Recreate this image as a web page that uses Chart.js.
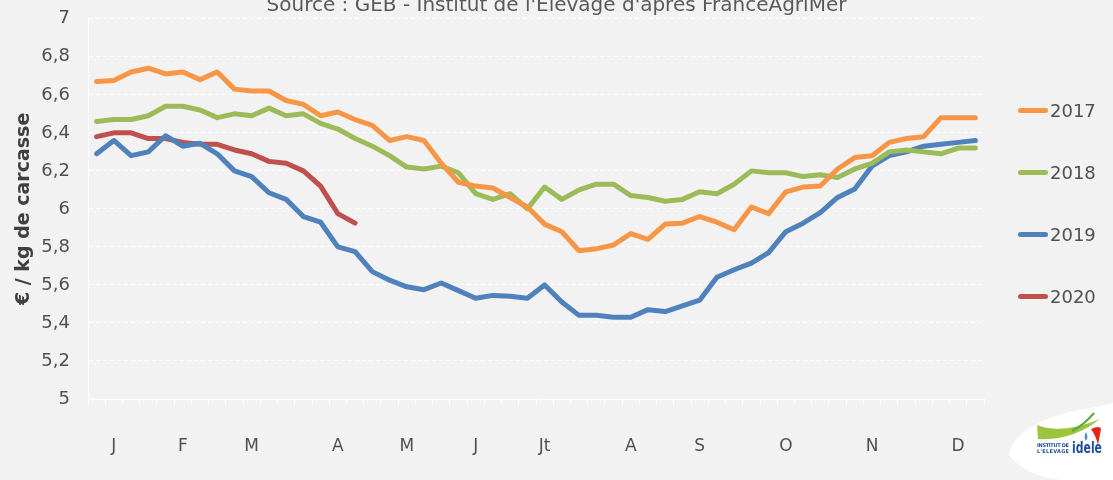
<!DOCTYPE html>
<html>
<head>
<meta charset="utf-8">
<script src="https://cdn.jsdelivr.net/npm/chart.js@4"></script>
<style>
  body { margin: 0; background: #f2f2f2; overflow: hidden; width: 1113px; height: 480px; position: relative; }
  #wrap { position: absolute; left: 0; top: -10px; width: 1113px; height: 490px; }
  #legend { position: absolute; left: 1018px; top: 79px; font-family: "DejaVu Sans", sans-serif; font-size: 18px; color: #505050; }
  #legend .item { height: 62px; display: flex; align-items: center; }
  #legend .swatch { width: 30px; height: 5px; border-radius: 3px; margin-right: 2px; }
  #logo { position: absolute; left: 1000px; top: 395px; }
</style>
</head>
<body>
<div id="wrap"><canvas id="priceChart" width="1113" height="490"></canvas></div>
<div id="legend"></div>
<svg id="logo" width="113" height="85" viewBox="0 0 113 85">
  <path d="M9 60 Q16 24 96 12 L113 8 L113 85 L64 85 Q26 82 9 60 Z" fill="#ffffff"/>
  <path d="M37 30 Q62 40 100 24 Q72 46 38 44 Z" fill="#9bc53d"/>
  <path d="M72 36 Q84 30 94 18" stroke="#5fa83a" stroke-width="2" fill="none"/>
  <path d="M91 34 Q100 30 101 34 L98 50 Q96 41 91 34 Z" fill="#e2231a"/>
  <path d="M86 37 Q83 42 86 46 Q89 42 86 37 Z" fill="#5b8fd0"/>
  <text x="37" y="52" font-family="DejaVu Sans" font-size="5" font-weight="bold" fill="#1f4e9a" textLength="32">INSTITUT DE</text>
  <text x="37" y="58" font-family="DejaVu Sans" font-size="5" font-weight="bold" fill="#1f4e9a" textLength="32">L'ELEVAGE</text>
  <text x="72" y="58" font-family="DejaVu Sans" font-size="15" font-weight="bold" fill="#1f4e9a" textLength="30" lengthAdjust="spacingAndGlyphs">idele</text>
</svg>
<script>
// weekly price, €/kg carcass, week 1..52
const years = ["2017", "2018", "2019", "2020"];
const colors = ["#f79646", "#9bbb59", "#4f81bd", "#c0504d"];

const months = ["J", "F", "M", "A", "M", "J", "Jt", "A", "S", "O", "N", "D"];
const monthWeeks = [1, 5, 9, 14, 18, 22, 26, 31, 35, 40, 45, 50];

const yTicks = [5, 5.2, 5.4, 5.6, 5.8, 6, 6.2, 6.4, 6.6, 6.8, 7];

const prices2017 = [6.67, 6.675, 6.72, 6.74, 6.71, 6.72, 6.68, 6.72, 6.63, 6.62, 6.62, 6.57, 6.55,
  6.49, 6.51, 6.47, 6.44, 6.36, 6.38, 6.36, 6.24, 6.14, 6.12, 6.11, 6.06, 6.01, 5.92,
  5.88, 5.78, 5.79, 5.81, 5.87, 5.84, 5.92, 5.925, 5.96, 5.93, 5.89, 6.01, 5.975, 6.09,
  6.115, 6.12, 6.21, 6.27, 6.28, 6.35, 6.37, 6.38, 6.48, 6.48, 6.48];
const prices2018 = [6.46, 6.47, 6.47, 6.49, 6.54, 6.54, 6.52, 6.48, 6.50, 6.49, 6.53, 6.49, 6.50,
  6.45, 6.42, 6.37, 6.33, 6.28, 6.22, 6.21, 6.225, 6.19, 6.08, 6.05, 6.08, 6.00, 6.115,
  6.05, 6.10, 6.13, 6.13, 6.07, 6.06, 6.04, 6.05, 6.09, 6.08, 6.13, 6.20, 6.19, 6.19,
  6.17, 6.18, 6.165, 6.21, 6.24, 6.30, 6.31, 6.30, 6.29, 6.32, 6.32];
const prices2019 = [6.29, 6.36, 6.28, 6.30, 6.385, 6.33, 6.345, 6.29, 6.20, 6.17, 6.085, 6.05, 5.96,
  5.93, 5.80, 5.775, 5.67, 5.625, 5.59, 5.575, 5.61, 5.57, 5.53, 5.545, 5.54, 5.53, 5.60,
  5.51, 5.44, 5.44, 5.43, 5.43, 5.47, 5.46, 5.49, 5.52, 5.64, 5.68, 5.715, 5.77, 5.88,
  5.925, 5.98, 6.06, 6.105, 6.225, 6.28, 6.30, 6.33, 6.34, 6.35, 6.36];
const prices2020 = [6.38, 6.40, 6.40, 6.37, 6.37, 6.35, 6.34, 6.34, 6.31, 6.29, 6.25, 6.24, 6.20,
  6.12, 5.975, 5.925];

const series = [prices2017, prices2018, prices2019, prices2020];

// 52 week slots, month letter on some of them
const weekLabels = [];
for (let i = 0; i < 52; i++) {
  const m = monthWeeks.indexOf(i);
  weekLabels.push(m >= 0 ? months[m] : "");
}

const font = "DejaVu Sans";

const ctx = document.getElementById("priceChart").getContext("2d");
const chart = new Chart(ctx, {
  type: "line",
  data: {
    labels: weekLabels,
    datasets: years.map((y, i) => ({
      label: y,
      data: series[i],
      borderColor: colors[i],
      backgroundColor: colors[i],
      borderWidth: 5,
      pointRadius: 0,
      tension: 0,
      borderJoinStyle: "round",
      borderCapStyle: "round",
      fill: false,
    })),
  },
  options: {
    responsive: false,
    animation: false,
    plugins: {
      legend: { display: false },
      tooltip: { enabled: false },
      title: {
        display: true,
        text: "Source : GEB - Institut de l'Elevage d'après FranceAgriMer",
        color: "#595959",
        font: { family: font, size: 20, weight: "normal" },
        padding: { top: 2, bottom: 1 },
      },
    },
    scales: {
      x: {
        offset: true,
        grid: { drawOnChartArea: false, drawTicks: true, tickLength: 5, color: "#ffffff", offset: true },
        border: { color: "#ffffff" },
        ticks: {
          autoSkip: false,
          maxRotation: 0,
          padding: 32,
          color: "#505050",
          font: { family: font, size: 17 },
        },
        afterFit: (scale) => { scale.height = 81; },
      },
      y: {
        min: 5,
        max: 7,
        afterBuildTicks: (scale) => { scale.ticks = yTicks.map((v) => ({ value: v })); },
        grid: { color: "rgba(255,255,255,0.9)", drawTicks: false },
        border: { color: "#ffffff", dash: [4, 3] },
        ticks: {
          padding: 18,
          color: "#505050",
          font: { family: font, size: 18 },
          callback: (v) => String(Math.round(v * 10) / 10).replace(".", ","),
        },
        title: {
          display: true,
          text: "€ / kg de carcasse",
          color: "#404040",
          font: { family: font, size: 19, weight: "bold" },
          padding: { top: 13, bottom: 0 },
        },
        afterFit: (scale) => { scale.width = 88; },
      },
      // empty axis on the right, keeps room for the legend without shifting the title
      legendSpace: {
        position: "right",
        grid: { display: false },
        border: { display: false },
        ticks: { display: false },
        afterFit: (scale) => { scale.width = 129; },
      },
    },
  },
});

// html legend built from the chart's own legend items
const legendBox = document.getElementById("legend");
chart.options.plugins.legend.labels.generateLabels(chart).forEach((item) => {
  const row = document.createElement("div");
  row.className = "item";
  const sw = document.createElement("span");
  sw.className = "swatch";
  sw.style.background = item.strokeStyle;
  const txt = document.createElement("span");
  txt.textContent = item.text;
  row.appendChild(sw);
  row.appendChild(txt);
  legendBox.appendChild(row);
});
</script>
</body>
</html>
